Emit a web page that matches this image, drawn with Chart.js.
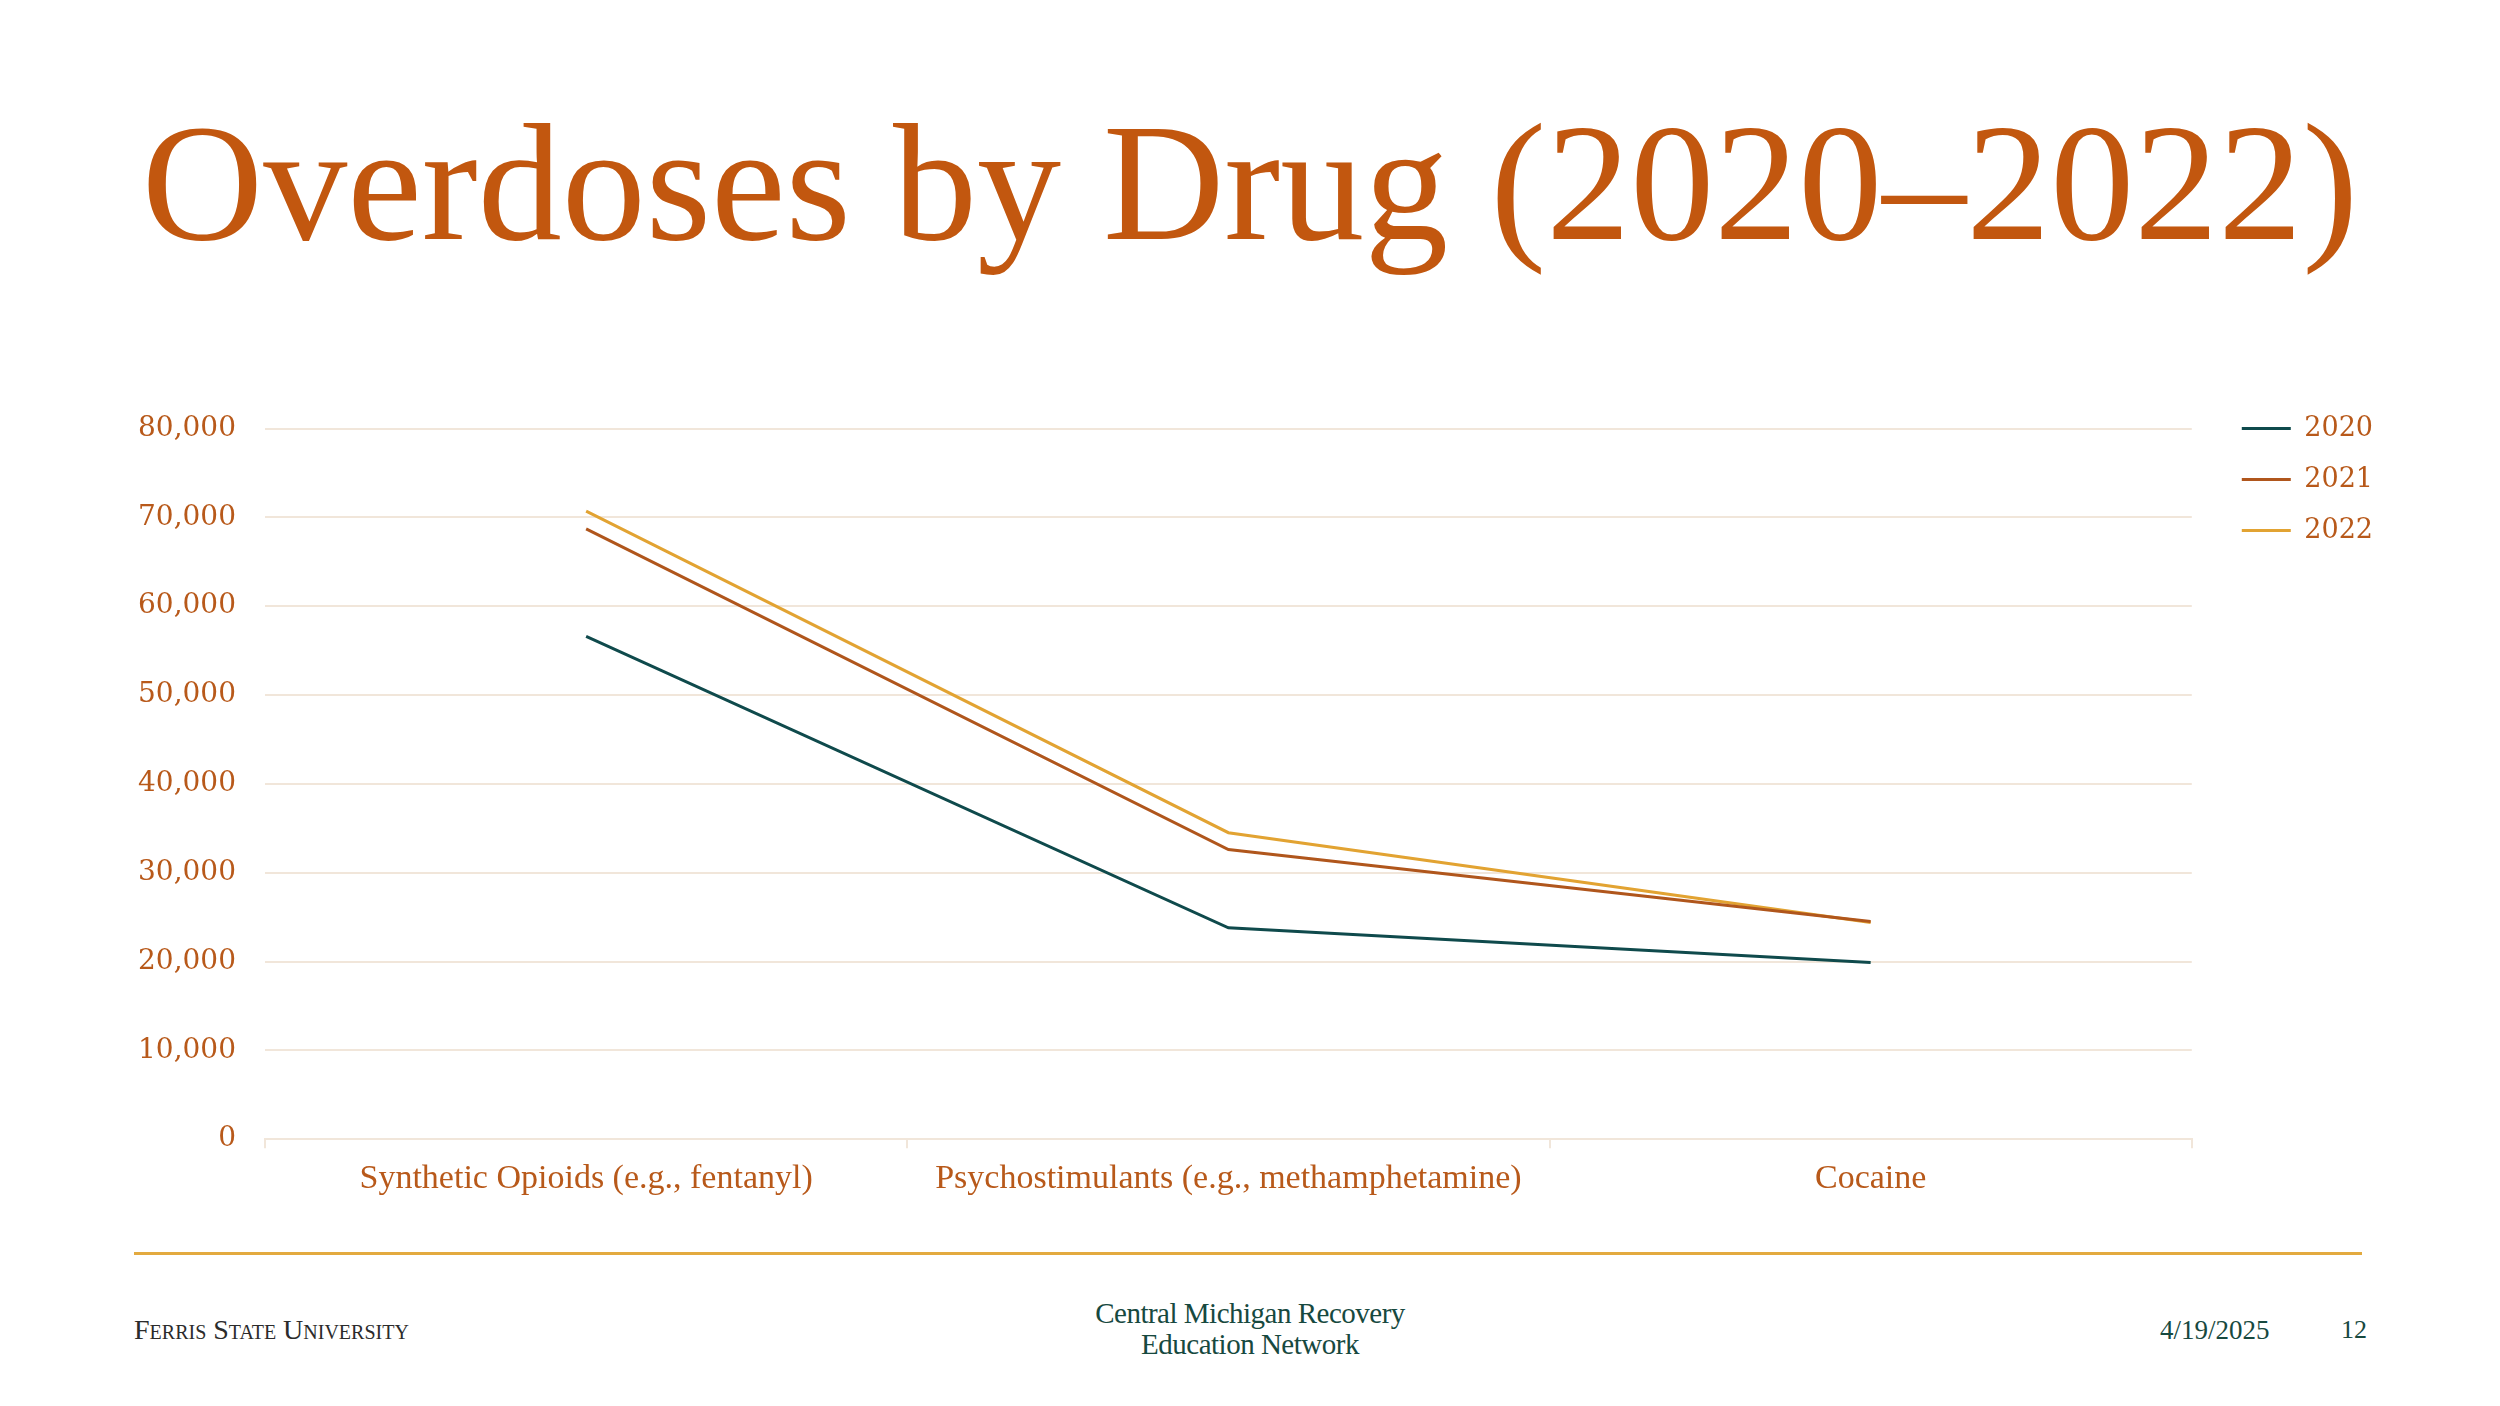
<!DOCTYPE html>
<html>
<head>
<meta charset="utf-8">
<script src="https://cdn.jsdelivr.net/npm/chart.js@4.4.1/dist/chart.umd.min.js"></script>
<style>
  html, body { margin: 0; padding: 0; background: #fff; }
  body { width: 2500px; height: 1406px; position: relative; overflow: hidden; }
  #title {
    position: absolute; left: 0; width: 2500px; top: 98px;
    text-align: center; font-family: "Liberation Serif", serif;
    font-size: 168px; color: #c2570f; line-height: 1; white-space: nowrap;
  }
  #wrap { position: absolute; left: 0; top: 382px; width: 2500px; height: 827px; }
  #rule { position: absolute; left: 134px; width: 2228px; top: 1252px; height: 3px; background: #e3aa3f; }
  .foot { position: absolute; font-family: "Liberation Serif", serif; white-space: nowrap; }
  #ferris { left: 134px; top: 1314px; font-size: 28px; font-variant: small-caps; color: #2b2b2b; }
  #cmren { left: 1000px; width: 500px; top: 1298px; text-align: center; font-size: 29px; line-height: 31px; color: #17493f; letter-spacing: -0.5px; }
  #date { left: 2160px; top: 1315px; font-size: 27px; color: #17493f; }
  #page { left: 2341px; top: 1315px; font-size: 26px; color: #17493f; }
</style>
</head>
<body>
<div id="title">Overdoses by Drug (2020–2022)</div>
<div id="wrap"><canvas id="chart"></canvas></div>
<div id="rule"></div>
<div class="foot" id="ferris">Ferris State University</div>
<div class="foot" id="cmren">Central Michigan Recovery<br>Education Network</div>
<div class="foot" id="date">4/19/2025</div>
<div class="foot" id="page">12</div>
<script>
'use strict';

const drugs = ['Synthetic Opioids (e.g., fentanyl)', 'Psychostimulants (e.g., methamphetamine)', 'Cocaine'];
const years = ['2020', '2021', '2022'];
const deaths2020 = [56600, 23800, 19900];
const deaths2021 = [68700, 32600, 24500];
const deaths2022 = [70700, 34500, 24400];
const yearColors = ['#0f4a4c', '#b0561c', '#e2a332'];

const tickColor = '#b8591a';
const gridColor = '#f1e6da';

const ctx = document.getElementById('chart').getContext('2d');

var myChart = new Chart(ctx, {
    type: 'line',
    data: {
        labels: drugs,
        datasets: [deaths2020, deaths2021, deaths2022].map((vals, i) => ({
            label: years[i],
            data: vals,
            borderColor: yearColors[i],
            backgroundColor: yearColors[i],
            borderWidth: 3,
            pointRadius: 0,
            tension: 0
        }))
    },
    options: {
        responsive: true,
        maintainAspectRatio: false,
        animation: false,
        layout: { padding: { top: 9, right: 117, bottom: 0, left: 0 } },
        plugins: {
            tooltip: { enabled: false },
            // empty spacer so the legend's first row sits level with the top gridline
            title: { display: true, text: '', fullSize: false, font: { size: 25, lineHeight: 1 }, padding: { top: 0, bottom: 12.5 } },
            legend: {
                position: 'right',
                align: 'start',
                labels: {
                    color: tickColor,
                    font: { family: 'DejaVu Serif', size: 27 },
                    boxWidth: 49,
                    boxHeight: 3,
                    padding: 24,
                    generateLabels: (chart) => chart.data.datasets.map((ds, i) => ({
                        text: ds.label,
                        fillStyle: ds.borderColor,
                        strokeStyle: ds.borderColor,
                        lineWidth: 0,
                        datasetIndex: i,
                        fontColor: tickColor
                    }))
                }
            }
        },
        scales: {
            x: {
                offset: true,
                grid: { offset: true, drawOnChartArea: false, drawTicks: true, tickLength: 9, color: gridColor, lineWidth: 2 },
                border: { color: gridColor, width: 2 },
                ticks: { color: tickColor, font: { family: 'Liberation Serif', size: 34 }, padding: 10, maxRotation: 0 }
            },
            y: {
                min: 0,
                max: 80000,
                afterFit: (scale) => { scale.width = 265; },
                grid: { color: gridColor, lineWidth: 2, drawTicks: false },
                border: { display: false },
                ticks: {
                    stepSize: 10000,
                    padding: 29,
                    color: tickColor,
                    font: { family: 'DejaVu Serif', size: 28 },
                    callback: (v) => v.toLocaleString('en-US')
                }
            },
            // blank right gutter between the plot and the legend
            gap: {
                position: 'right',
                afterFit: (scale) => { scale.width = 26; },
                grid: { display: false },
                border: { display: false },
                ticks: { display: false }
            }
        }
    }
});
</script>
</body>
</html>
